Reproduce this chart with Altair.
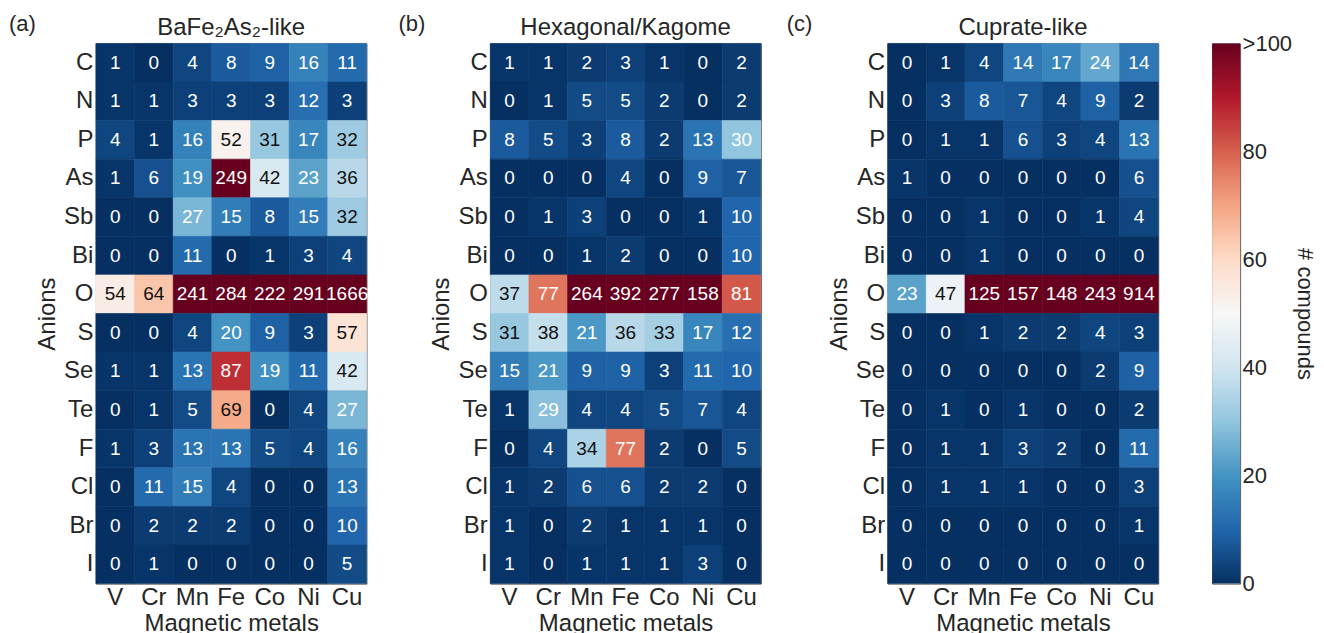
import altair as alt
import pandas as pd

metals = ["V", "Cr", "Mn", "Fe", "Co", "Ni", "Cu"]
anions = ["C", "N", "P", "As", "Sb", "Bi", "O", "S", "Se", "Te", "F", "Cl", "Br", "I"]

titles = ["BaFe₂As₂-like", "Hexagonal/Kagome", "Cuprate-like"]
panel_labels = ["(a)", "(b)", "(c)"]

counts_a = [
    [1, 0, 4, 8, 9, 16, 11],
    [1, 1, 3, 3, 3, 12, 3],
    [4, 1, 16, 52, 31, 17, 32],
    [1, 6, 19, 249, 42, 23, 36],
    [0, 0, 27, 15, 8, 15, 32],
    [0, 0, 11, 0, 1, 3, 4],
    [54, 64, 241, 284, 222, 291, 1666],
    [0, 0, 4, 20, 9, 3, 57],
    [1, 1, 13, 87, 19, 11, 42],
    [0, 1, 5, 69, 0, 4, 27],
    [1, 3, 13, 13, 5, 4, 16],
    [0, 11, 15, 4, 0, 0, 13],
    [0, 2, 2, 2, 0, 0, 10],
    [0, 1, 0, 0, 0, 0, 5],
]

counts_b = [
    [1, 1, 2, 3, 1, 0, 2],
    [0, 1, 5, 5, 2, 0, 2],
    [8, 5, 3, 8, 2, 13, 30],
    [0, 0, 0, 4, 0, 9, 7],
    [0, 1, 3, 0, 0, 1, 10],
    [0, 0, 1, 2, 0, 0, 10],
    [37, 77, 264, 392, 277, 158, 81],
    [31, 38, 21, 36, 33, 17, 12],
    [15, 21, 9, 9, 3, 11, 10],
    [1, 29, 4, 4, 5, 7, 4],
    [0, 4, 34, 77, 2, 0, 5],
    [1, 2, 6, 6, 2, 2, 0],
    [1, 0, 2, 1, 1, 1, 0],
    [1, 0, 1, 1, 1, 3, 0],
]

counts_c = [
    [0, 1, 4, 14, 17, 24, 14],
    [0, 3, 8, 7, 4, 9, 2],
    [0, 1, 1, 6, 3, 4, 13],
    [1, 0, 0, 0, 0, 0, 6],
    [0, 0, 1, 0, 0, 1, 4],
    [0, 0, 1, 0, 0, 0, 0],
    [23, 47, 125, 157, 148, 243, 914],
    [0, 0, 1, 2, 2, 4, 3],
    [0, 0, 0, 0, 0, 2, 9],
    [0, 1, 0, 1, 0, 0, 2],
    [0, 1, 1, 3, 2, 0, 11],
    [0, 1, 1, 1, 0, 0, 3],
    [0, 0, 0, 0, 0, 0, 1],
    [0, 0, 0, 0, 0, 0, 0],
]

# colour map (RdBu reversed), 0 .. >100
cmap_domain = [0, 10, 20, 30, 40, 50, 60, 70, 80, 90, 100]
cmap_colors = ["#053061", "#2166ac", "#4393c3", "#92c5de", "#d1e5f0", "#f7f7f7",
               "#fddbc7", "#f4a582", "#d6604d", "#b2182b", "#67001f"]
colorbar_values = [0, 20, 40, 60, 80, 100]

FONT = "Liberation Sans"
TXT = "#262626"
PW, PH = 271, 541

color_scale = alt.Scale(domain=cmap_domain, range=cmap_colors, clamp=True,
                        interpolate="rgb")


def panel(counts, title, label, label_dx):
    rows = []
    for i, an in enumerate(anions):
        for j, m in enumerate(metals):
            rows.append({"anion": an, "metal": m, "n": counts[i][j]})
    df = pd.DataFrame(rows)
    base = alt.Chart(df)
    x = alt.X("metal:N", sort=metals, title="Magnetic metals",
              axis=alt.Axis(labelAngle=0, labelPadding=2, titlePadding=2))
    y = alt.Y("anion:N", sort=anions, title="Anions",
              axis=alt.Axis(labelPadding=3, titlePadding=4))
    rect = base.mark_rect(strokeWidth=0.6).encode(
        x=x, y=y,
        color=alt.Color("n:Q", scale=color_scale, legend=None),
        stroke=alt.Stroke("n:Q", scale=color_scale, legend=None),
    )
    text = base.mark_text(fontSize=19, font=FONT).encode(
        x=x, y=y, text="n:Q",
        color=alt.condition("datum.n > 30 && datum.n < 70",
                            alt.value("#111111"), alt.value("white")),
    )
    ann = pd.DataFrame({"t": [label, title], "kind": ["label", "title"]})
    lab = alt.Chart(ann).transform_filter("datum.kind == 'label'").mark_text(
        align="left", baseline="alphabetic", fontSize=22, font=FONT, color=TXT
    ).encode(x=alt.value(label_dx), y=alt.value(-12), text="t:N")
    ttl = alt.Chart(ann).transform_filter("datum.kind == 'title'").mark_text(
        align="center", baseline="alphabetic", fontSize=24, font=FONT, color=TXT
    ).encode(x=alt.value(PW / 2), y=alt.value(-8), text="t:N")
    return alt.layer(rect, text, lab, ttl).properties(width=PW, height=PH)


pa = panel(counts_a, titles[0], panel_labels[0], -87)
pb = panel(counts_b, titles[1], panel_labels[1], -92)
pc = panel(counts_c, titles[2], panel_labels[2], -101)

# colour bar: one rect spanning 0..100 on its own scale, filled with the map
cb_df = pd.DataFrame({"lo": [cmap_domain[0]], "hi": [cmap_domain[-1]],
                      "x0": [0], "x1": [1]})
gradient = alt.LinearGradient(
    gradient="linear", x1=0, x2=0, y1=1, y2=0,
    stops=[alt.GradientStop(offset=v / 100, color=c)
           for v, c in zip(cmap_domain, cmap_colors)],
)
cbar = alt.Chart(cb_df).mark_rect(color=gradient).encode(
    x=alt.X("x0:Q", scale=alt.Scale(domain=[0, 1]), axis=None),
    x2="x1:Q",
    y=alt.Y("lo:Q", scale=alt.Scale(domain=[0, 100]),
            axis=alt.Axis(orient="right", values=colorbar_values,
                          labelExpr="datum.value >= 100 ? '>100' : datum.label",
                          labelFlush=False, labelBaseline="middle",
                          labelPadding=2, labelFontSize=22, grid=False,
                          title="# compounds", titleAngle=90, titlePadding=1,
                          titleFontSize=22)),
    y2="hi:Q",
).properties(width=28, height=PH)

chart = alt.hconcat(
    alt.hconcat(alt.hconcat(pa, pb, spacing=28), pc, spacing=24), cbar, spacing=52
).properties(
    padding={"left": 0, "top": 4, "right": -1, "bottom": 0}
).configure(font=FONT).configure_view(
    stroke="#555555", strokeWidth=1
).configure_axis(
    domain=False, ticks=False, labelFontSize=24, titleFontSize=24,
    titleFontWeight="normal", labelColor=TXT, titleColor=TXT, labelFont=FONT,
    titleFont=FONT,
)

chart.save("out.html", embed_options={"renderer": "svg", "actions": False})
